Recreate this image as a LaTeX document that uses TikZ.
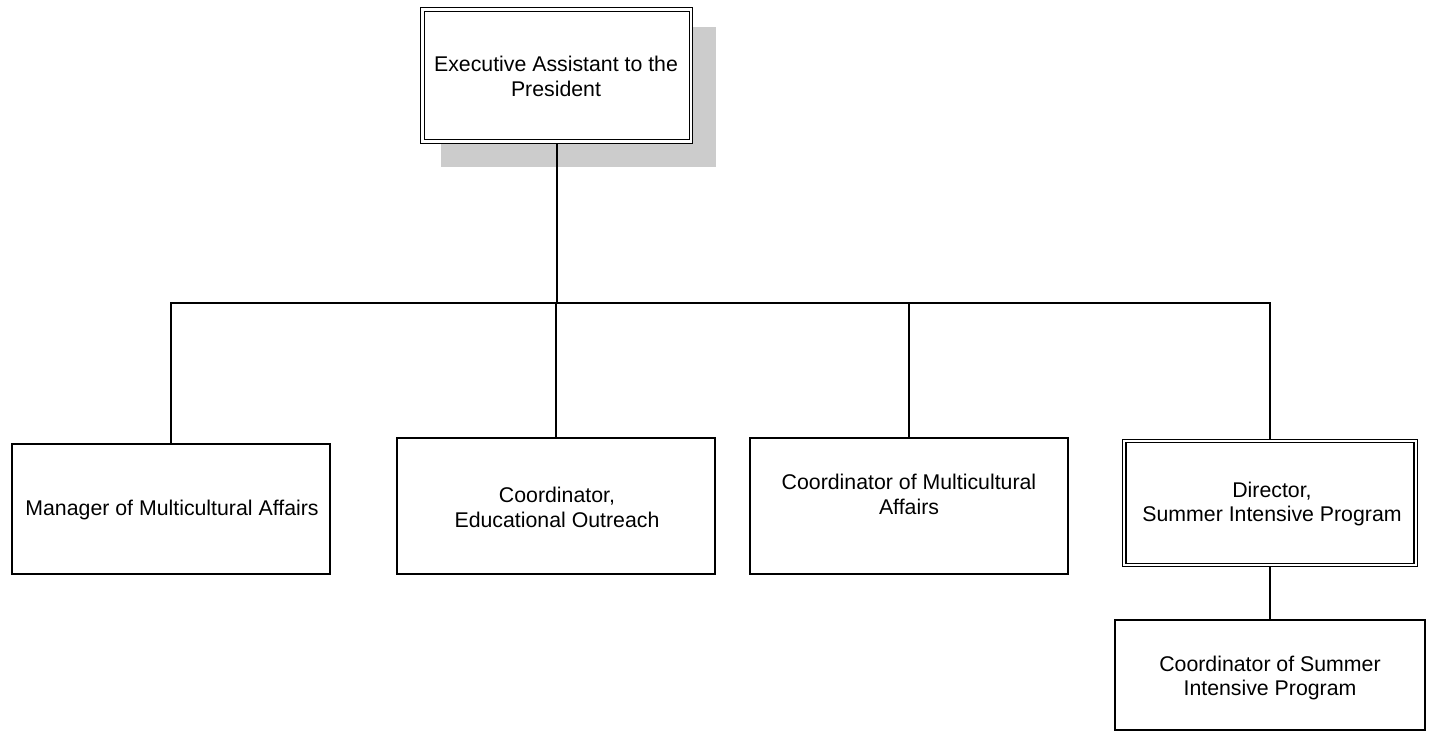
\documentclass[tikz,border=0pt]{standalone}
\usepackage{fontspec}
\setmainfont{Liberation Sans}
\usetikzlibrary{backgrounds}
\definecolor{shadowgray}{HTML}{CCCCCC}
\begin{document}
\begin{tikzpicture}[x=1pt,y=-1pt,
  box/.style={draw, rectangle, line width=1.4pt, fill=white, inner sep=0pt},
  dblbox/.style={draw, rectangle, line width=1.2pt, double, double distance=2.2pt, fill=white, inner sep=0pt},
  label/.style={align=center, inner sep=0pt, font=\fontsize{21.3}{24.8}\selectfont},
  conn/.style={line width=1.6pt}]
\useasboundingbox (0,0) rectangle (1430,733);
% boxes
\node[dblbox, minimum width=268.5pt, minimum height=132pt] (top) at (556.75,75.5) {};
\node[box, minimum width=318pt, minimum height=130pt] (mgr) at (171,509) {};
\node[box, minimum width=318pt, minimum height=136pt] (ceo) at (556,506) {};
\node[box, minimum width=318pt, minimum height=136pt] (cma) at (909,506) {};
\node[dblbox, minimum width=291.5pt, minimum height=124pt] (dir) at (1270,503) {};
\node[box, minimum width=310pt, minimum height=110pt] (cos) at (1270,675) {};
% texts
\node[label] (toptxt) at (556,76) {Executive Assistant to the\\President};
\node[label] (mgrtxt) at (172,510) {Manager of Multicultural Affairs};
\node[label] (ceotxt) at (557,507) {Coordinator,\\Educational Outreach};
\node[label] (cmatxt) at (909,494) {Coordinator of Multicultural\\Affairs};
\node[label] (dirtxt) at (1272,504) {Director,\\Summer Intensive Program};
\node[label] (costxt) at (1270,678) {Coordinator of Summer\\Intensive Program};
\coordinate (busy) at (0,303);
\begin{scope}[on background layer]
  \fill[shadowgray] ([shift={(19.5,18.5)}]top.north west) rectangle ([shift={(24,24.5)}]top.south east);
  \draw[conn] (top.south) -- (top.south |- busy);
  \draw[conn] (mgr.north) -- (mgr.north |- busy) -- (dir.north |- busy) -- (dir.north);
  \draw[conn] (ceo.north) -- (ceo.north |- busy);
  \draw[conn] (cma.north) -- (cma.north |- busy);
  \draw[conn] (dir.south) -- (cos.north);
\end{scope}
\end{tikzpicture}
\end{document}
